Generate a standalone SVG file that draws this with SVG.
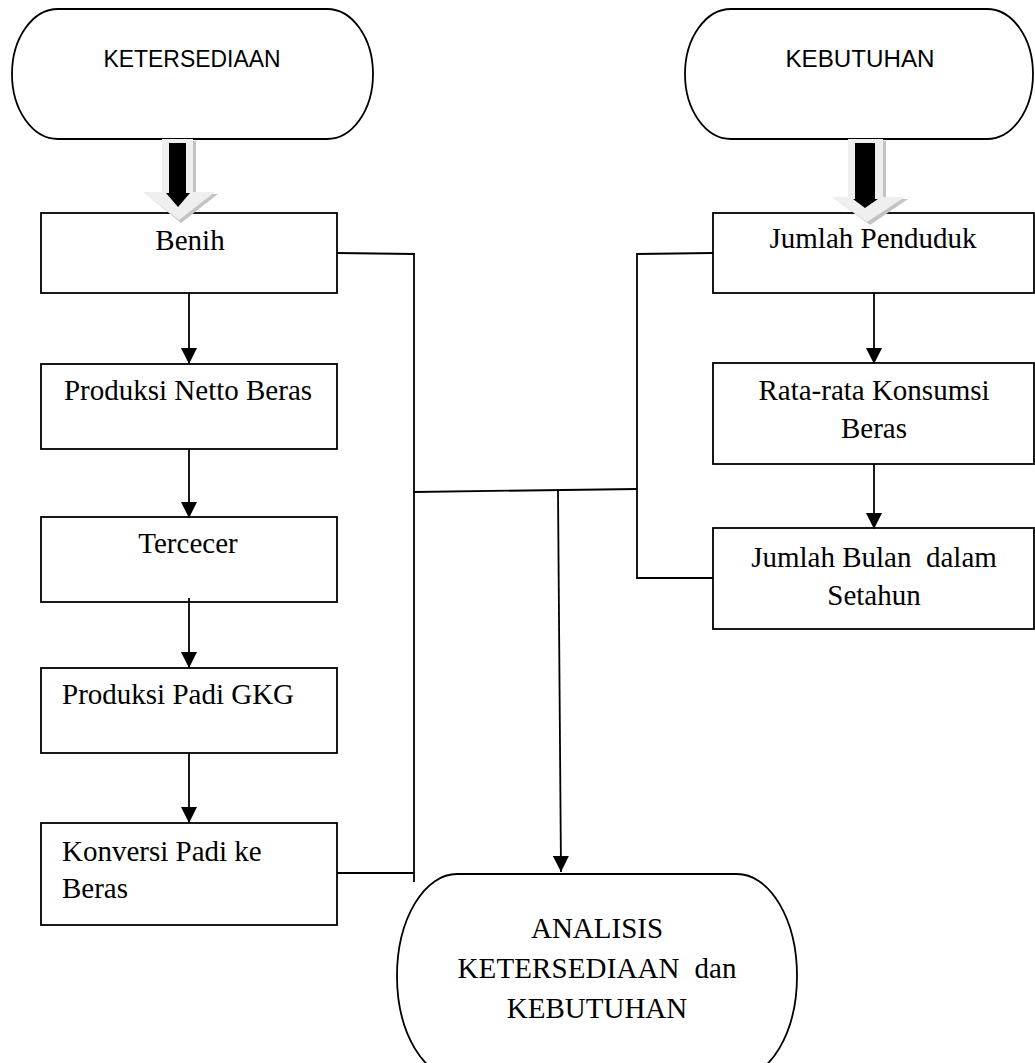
<svg xmlns="http://www.w3.org/2000/svg" width="1035" height="1063" viewBox="0 0 1035 1063">
<style>
.box{fill:#fff;stroke:#000;stroke-width:1.8}
.term{fill:#fff;stroke:#000;stroke-width:1.8}
.ln{fill:none;stroke:#000;stroke-width:1.8}
.t{font-family:"Liberation Serif","Times New Roman",serif;font-size:29px;fill:#000}
.s{font-family:"Liberation Sans",Arial,sans-serif;font-size:23px;fill:#000}
.shadow{fill:#c4c4c4}
.outer{fill:#efefef}
.inner{fill:#000}
</style>
<defs>
<marker id="ah" markerUnits="userSpaceOnUse" markerWidth="16" markerHeight="16" viewBox="0 0 16 16" refX="16" refY="8" orient="auto">
<path d="M0,0 L16,8 L0,16 Z" fill="#000"/>
</marker>
</defs>
<rect width="1035" height="1063" fill="#fff"/>

<g id="n-ketersediaan">
<rect class="term" x="12" y="9" width="361" height="130" rx="46" ry="65"/>
<text class="s" x="192" y="67" text-anchor="middle" textLength="177" lengthAdjust="spacingAndGlyphs">KETERSEDIAAN</text>
</g>
<g id="n-kebutuhan">
<rect class="term" x="685" y="9" width="348" height="130" rx="46" ry="65"/>
<text class="s" x="860" y="67" text-anchor="middle" textLength="149" lengthAdjust="spacingAndGlyphs">KEBUTUHAN</text>
</g>

<g id="n-benih">
<rect class="box" x="41" y="213" width="296" height="80"/>
<text class="t" x="190" y="250" text-anchor="middle">Benih</text>
</g>
<g id="n-produksi-netto">
<rect class="box" x="41" y="364" width="296" height="85"/>
<text class="t" x="188" y="400" text-anchor="middle">Produksi Netto Beras</text>
</g>
<g id="n-tercecer">
<rect class="box" x="41" y="517" width="296" height="85"/>
<text class="t" x="188" y="553" text-anchor="middle">Tercecer</text>
</g>
<g id="n-produksi-padi">
<rect class="box" x="41" y="668" width="296" height="85"/>
<text class="t" x="62" y="704">Produksi Padi GKG</text>
</g>
<g id="n-konversi">
<rect class="box" x="41" y="823" width="296" height="102"/>
<text class="t" x="62" y="861">Konversi Padi ke</text>
<text class="t" x="62" y="898">Beras</text>
</g>

<g id="n-jumlah-penduduk">
<rect class="box" x="713" y="213" width="321" height="80"/>
<text class="t" x="873" y="248" text-anchor="middle">Jumlah Penduduk</text>
</g>
<g id="n-rata-rata">
<rect class="box" x="713" y="363" width="321" height="101"/>
<text class="t" x="874" y="400" text-anchor="middle">Rata-rata Konsumsi</text>
<text class="t" x="874" y="438" text-anchor="middle">Beras</text>
</g>
<g id="n-jumlah-bulan">
<rect class="box" x="713" y="528" width="321" height="101"/>
<text class="t" x="874" y="567" text-anchor="middle" xml:space="preserve">Jumlah Bulan  dalam</text>
<text class="t" x="874" y="605" text-anchor="middle">Setahun</text>
</g>

<g id="n-analisis">
<rect class="term" x="397" y="874" width="400" height="204" rx="60" ry="102"/>
<text class="t" x="597" y="938" text-anchor="middle">ANALISIS</text>
<text class="t" x="597" y="978" text-anchor="middle" xml:space="preserve" textLength="279" lengthAdjust="spacing">KETERSEDIAAN  dan</text>
<text class="t" x="597" y="1018" text-anchor="middle">KEBUTUHAN</text>
</g>

<g id="block-arrows">
<polygon class="shadow" points="165,141 196,141 196,194 218,194 181,223 146,194 165,194"/>
<polygon class="outer" points="162,139 193,139 193,192 215,192 179,220 143,192 162,192"/>
<polygon class="inner" points="169,143 186,143 186,193 190,193 178,207 166,193 169,193"/>
<polygon class="shadow" points="851,141 886,141 886,199 908,199 870,225 835,199 851,199"/>
<polygon class="outer" points="848,139 883,139 883,197 905,197 867,222 832,197 848,197"/>
<polygon class="inner" points="855,143 875,143 875,199 878,199 865,208 853,199 855,199"/>
</g>

<g id="connectors">
<line class="ln" x1="189" y1="293" x2="189" y2="364" marker-end="url(#ah)"/>
<line class="ln" x1="189" y1="449" x2="189" y2="518" marker-end="url(#ah)"/>
<line class="ln" x1="189" y1="598" x2="189" y2="668" marker-end="url(#ah)"/>
<line class="ln" x1="189" y1="753" x2="189" y2="823" marker-end="url(#ah)"/>
<line class="ln" x1="874" y1="293" x2="874" y2="364" marker-end="url(#ah)"/>
<line class="ln" x1="874" y1="464" x2="874" y2="529" marker-end="url(#ah)"/>
<polyline class="ln" points="337,253 414,254 414,882"/>
<line class="ln" x1="337" y1="873" x2="414" y2="873"/>
<line class="ln" x1="414" y1="492" x2="637" y2="489"/>
<polyline class="ln" points="713,253 637,254 637,578 713,578"/>
<line class="ln" x1="558" y1="491" x2="561" y2="872" marker-end="url(#ah)"/>
</g>
</svg>
